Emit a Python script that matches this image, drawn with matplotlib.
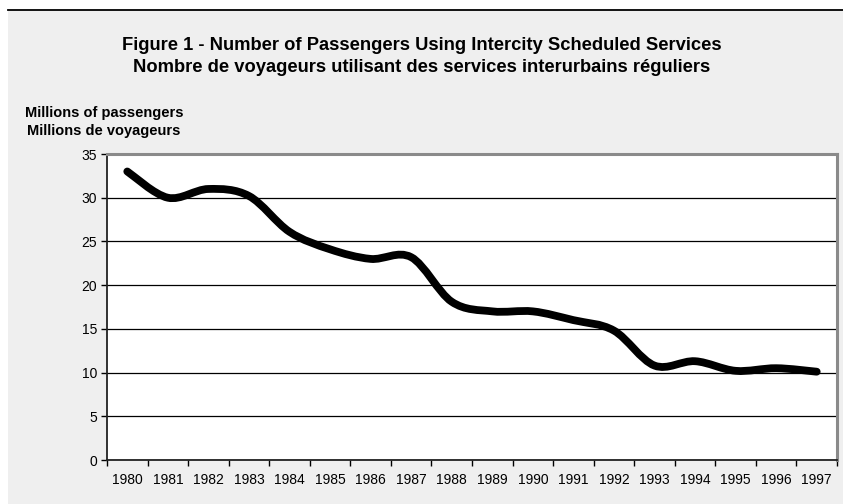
import numpy as np
import matplotlib
matplotlib.use("Agg")
import matplotlib.pyplot as plt
from matplotlib.path import Path
from matplotlib.patches import PathPatch, Rectangle
from matplotlib.lines import Line2D

years = ["1980", "1981", "1982", "1983", "1984", "1985", "1986", "1987", "1988",
         "1989", "1990", "1991", "1992", "1993", "1994", "1995", "1996", "1997"]
passengers = [33.0, 30.0, 31.0, 30.2, 26.1, 24.1, 23.0, 23.2, 18.1,
              17.0, 17.0, 16.0, 14.8, 10.8, 11.3, 10.2, 10.5, 10.1]
yticks = [0, 5, 10, 15, 20, 25, 30, 35]

title1 = "Figure 1 - Number of Passengers Using Intercity Scheduled Services"
title2 = "Nombre de voyageurs utilisant des services interurbains réguliers"
ylab1 = "Millions of passengers"
ylab2 = "Millions de voyageurs"

plt.rcParams['font.family'] = ["Liberation Sans", "DejaVu Sans"]

W, H = 843, 504
fig = plt.figure(figsize=(W / 100, H / 100), dpi=100)
fig.patch.set_facecolor("white")
fig.patches.append(Rectangle((8 / W, 0), 1 - 8 / W, 1 - 10 / H, transform=fig.transFigure,
                             facecolor="#efefef", edgecolor="none", zorder=-5))
fig.lines.append(Line2D([8 / W, 1], [1 - 9.5 / H, 1 - 9.5 / H], transform=fig.transFigure,
                        color="black", lw=1.3, zorder=-4))

left, right, top, bottom = 107, 837, 154, 460
ax = fig.add_axes([left / W, 1 - bottom / H, (right - left) / W, (bottom - top) / H])
ax.set_zorder(2)
ax.set_facecolor("white")

n = len(passengers)
xs = np.arange(n, dtype=float)
ys = np.array(passengers, dtype=float)

# Smoothed line (Bezier segments through the data points, like a spreadsheet smoothed line)
verts = [(xs[0], ys[0])]
codes = [Path.MOVETO]
for i in range(n - 1):
    p0 = np.array([xs[max(i - 1, 0)], ys[max(i - 1, 0)]])
    p1 = np.array([xs[i], ys[i]])
    p2 = np.array([xs[i + 1], ys[i + 1]])
    p3 = np.array([xs[min(i + 2, n - 1)], ys[min(i + 2, n - 1)]])
    c1 = p1 + (p2 - p0) / 6.0
    c2 = p2 - (p3 - p1) / 6.0
    verts += [tuple(c1), tuple(c2), tuple(p2)]
    codes += [Path.CURVE4, Path.CURVE4, Path.CURVE4]
patch = PathPatch(Path(verts, codes), facecolor="none", edgecolor="black", lw=5.6,
                  capstyle="round", joinstyle="round", zorder=3)
ax.add_patch(patch)

ax.set_xlim(-0.5, n - 0.5)
ax.set_ylim(0, 35)
ax.set_yticks(yticks)
ax.set_yticklabels([str(t) for t in yticks])
ax.set_xticks(np.arange(-0.5, n, 1.0))
ax.set_xticklabels([])
ax.set_xticks(xs, minor=True)
ax.set_xticklabels(years, minor=True)
ax.tick_params(axis="x", which="major", direction="out", length=4, width=1, color="black")
ax.tick_params(axis="x", which="minor", length=0, pad=9, labelsize=10)
ax.tick_params(axis="y", direction="out", length=4, width=1, pad=3, labelsize=10)

ax.yaxis.grid(True, color="black", lw=0.9)
ax.set_axisbelow(True)
for s in ["top", "right"]:
    ax.spines[s].set_color("#8a8a8a")
    ax.spines[s].set_linewidth(2.2)
for s in ["left", "bottom"]:
    ax.spines[s].set_color("#222222")
    ax.spines[s].set_linewidth(1.3)

fig.text(0.5, 1 - 45 / H, title1, ha="center", va="center", fontsize=13.2,
         fontweight="bold")
fig.text(0.5, 1 - 67 / H, title2, ha="center", va="center", fontsize=13.2,
         fontweight="bold")
fig.text(25 / W, 1 - 113 / H, ylab1, ha="left", va="center", fontsize=10.5,
         fontweight="bold")
fig.text(27 / W, 1 - 131 / H, ylab2, ha="left", va="center", fontsize=10.5,
         fontweight="bold")

fig.savefig("out.png", dpi=100, facecolor=fig.get_facecolor())
